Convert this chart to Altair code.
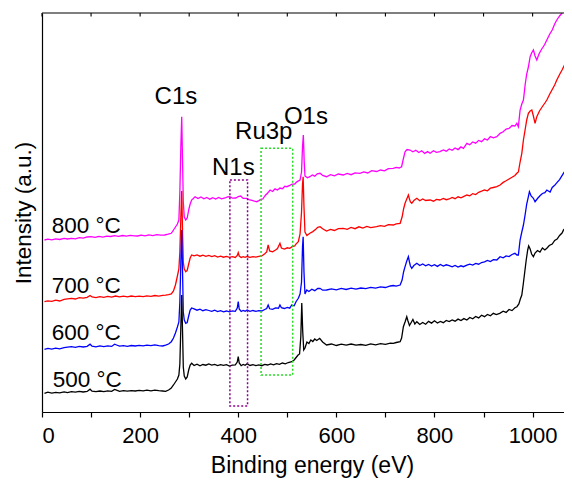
import altair as alt
import pandas as pd

FONT = "Liberation Sans"

# ---- spectra: (binding energy eV, intensity a.u.) ----
s500 = [(5, 18.7), (12, 19.8), (20, 18.9), (28, 19.6), (36, 19.2), (45, 20.1), (52, 19.4), (60, 20.3),
        (68, 19.8), (76, 20.6), (84, 20.0), (92, 20.5), (98, 22.8), (102, 20.9), (110, 20.4), (118, 21.0),
        (126, 20.3), (134, 21.1), (142, 20.6), (148, 22.6), (152, 21.8), (158, 20.7), (166, 21.3), (174, 20.8),
        (182, 21.4), (190, 21.0), (198, 21.6), (206, 21.1), (214, 21.8), (222, 21.2), (230, 21.9), (238, 21.3),
        (246, 21.0), (252, 20.6), (258, 22.0), (263, 23.7), (268, 27), (272, 30), (276, 33), (279, 37),
        (281, 48), (283, 85), (284.8, 117), (286.5, 80), (288, 45), (290, 36), (293, 33), (296, 35), (299, 42),
        (302, 47), (305, 48.7), (310, 46.5), (316, 47.8), (322, 46.2), (328, 47.5), (334, 46.8), (340, 48.0),
        (346, 46.9), (352, 47.6), (358, 46.4), (364, 47.3), (370, 46.6), (376, 47.4), (382, 46.0), (388, 46.9),
        (394, 47.2), (398, 50), (400, 55.3), (402, 49), (406, 46.3), (410, 47.5), (414, 46.7), (418, 48.2),
        (424, 46.5), (430, 47.3), (436, 46.4), (442, 47.1), (448, 46.3), (454, 47.6), (460, 47.0), (466, 48.1),
        (472, 47.2), (478, 48.3), (484, 47.6), (490, 49.0), (496, 48.2), (502, 49.5), (509, 50.3), (514, 52),
        (518, 54.5), (522, 57), (525, 58), (527.5, 75), (529.5, 109), (531.5, 80), (533.5, 62), (536, 64),
        (540, 70), (544, 68.5), (548, 72), (552, 70.5), (556, 73), (560, 71.5), (566, 73.7), (572, 70),
        (580, 67), (590, 68), (600, 66.5), (610, 67.8), (620, 66.9), (630, 68.0), (640, 66.8), (650, 67.5),
        (660, 66.6), (670, 68.1), (680, 67.2), (690, 68.4), (700, 67.6), (710, 68.9), (716, 68.7), (722, 69.5),
        (730, 70.3), (733, 74), (736.6, 85.3), (740, 90), (743.5, 95.3), (746, 91), (749, 86.5), (752, 89),
        (756, 92.5), (760, 88), (764, 90.3), (770, 87.5), (776, 89.5), (782, 87.8), (788, 90.6), (794, 88.9),
        (800, 91.2), (806, 89.0), (812, 90.5), (818, 89.3), (824, 91.6), (830, 90.4), (836, 92.1), (842, 90.8),
        (848, 92.9), (854, 91.5), (860, 93.4), (866, 92.0), (872, 94.6), (878, 93.2), (884, 95.5), (890, 94.1),
        (896, 96.8), (902, 95.3), (908, 97.6), (914, 96.2), (920, 98.7), (926, 97.4), (933, 98.7), (940, 100.8),
        (946, 99.6), (952, 102.5), (958, 101.4), (964, 104.2), (968, 105.3), (972, 108), (975, 113), (978, 117),
        (981, 128), (984, 140), (987, 152), (990, 162), (992, 166), (995, 163), (998, 158), (1001.6, 155.3),
        (1005, 159), (1010, 161.5), (1015, 160), (1020, 164), (1025, 162), (1029, 163.7), (1034, 166.5),
        (1040, 168), (1045, 171.5), (1050, 173), (1055, 176.5), (1060, 179), (1063, 182), (1068, 184.5),
        (1073, 189), (1080, 195.3)]

s600 = [(5, 62.7), (12, 63.6), (20, 62.9), (28, 63.8), (36, 63.2), (45, 64.3), (52, 64.8), (60, 65.3),
        (68, 64.6), (76, 65.6), (84, 65.0), (92, 65.7), (98, 67.8), (102, 65.9), (110, 65.2), (118, 66.1),
        (126, 65.4), (134, 66.2), (142, 65.6), (148, 67.8), (152, 67.0), (158, 65.8), (166, 66.4), (174, 65.7),
        (182, 66.5), (190, 66.0), (198, 66.7), (206, 66.1), (214, 66.9), (222, 66.3), (230, 67.1), (238, 66.4),
        (246, 66.0), (252, 66.8), (258, 68.0), (263.6, 70.3), (268, 74), (272, 79), (276, 85), (279, 90),
        (281, 110), (283, 150), (284.8, 182), (286.5, 140), (288, 100), (290, 92), (293, 88.7), (296, 89.5),
        (299, 96), (302, 102), (305, 104), (310, 103.2), (316, 101.8), (322, 102.9), (328, 101.3), (334, 102.4),
        (340, 101.5), (346, 100.6), (352, 101.8), (358, 100.4), (364, 101.3), (370, 100.2), (376, 101.0),
        (382, 100.1), (388, 101.1), (394, 100.6), (398, 104), (400, 110.3), (402, 103), (406, 100.5),
        (410, 101.6), (414, 100.8), (418, 101.9), (424, 100.6), (430, 101.5), (436, 100.7), (442, 101.4),
        (448, 101.0), (454, 102.5), (458, 103.5), (461, 107), (464, 103.2), (470, 102.6), (476, 104.1),
        (482, 103.8), (485, 107), (488, 104.3), (494, 103.5), (500, 104.6), (505, 103.8), (509, 107),
        (514, 106.2), (518, 110.5), (522.5, 113.7), (526, 118), (529, 130), (531, 165), (532.3, 175.3),
        (534, 140), (536, 118), (539.7, 122), (544, 120.5), (550, 122.8), (556, 121.3), (562, 123.5),
        (566.8, 123.7), (572, 121.8), (580, 122), (590, 123.2), (600, 122.1), (610, 123.6), (620, 122.5),
        (630, 123.9), (640, 122.8), (650, 124.0), (660, 123.3), (670, 124.6), (680, 123.8), (690, 125.1),
        (700, 124.5), (710, 126.0), (716, 126.5), (722, 125.8), (730, 127), (734, 132), (737, 140), (740, 145.3),
        (743.5, 151), (746.8, 155.3), (749, 150), (751, 146), (753.7, 143.7), (758, 146.5), (764, 148.7),
        (770, 146.4), (776, 148.0), (782, 146.2), (788, 147.6), (794, 146.0), (800, 147.3), (806, 145.6),
        (812, 147.5), (818, 145.9), (824, 147.2), (830, 146.3), (836, 145.1), (842, 146.6), (848, 144.9),
        (854, 146.2), (859, 145.3), (866, 146.8), (872, 147.9), (878, 147.0), (884, 148.6), (890, 147.8),
        (896, 149.5), (902, 150.1), (908, 151.6), (914, 150.4), (920, 152.3), (927, 152), (933.7, 155.3),
        (940, 154.2), (946, 156.1), (952, 155.4), (958, 157.5), (964, 158.7), (968, 157.0), (971, 157),
        (974.5, 172), (978, 180), (981.3, 187), (985, 198), (988, 208), (991.4, 215.3), (993.5, 220.3),
        (997, 216), (1001.6, 213.7), (1005, 210.3), (1010, 213.5), (1015, 216.2), (1020, 218.5), (1025, 219.3),
        (1029, 222), (1035.7, 220), (1040, 224.5), (1045, 226.7), (1050, 229.6), (1055, 232.4),
        (1062.8, 238.7), (1068, 242.5), (1074, 247.3), (1080, 252)]

s700 = [(5, 110.3), (12, 111.2), (20, 110.6), (28, 111.8), (36, 111.0), (45, 112.6), (52, 113.1), (60, 113.7),
        (68, 113.0), (76, 114.3), (84, 113.8), (92, 114.6), (98, 116.5), (102, 115.0), (110, 114.4),
        (118, 115.3), (126, 114.7), (134, 115.6), (142, 114.9), (150, 116.0), (158, 115.1), (166, 115.9),
        (174, 115.2), (182, 116.0), (190, 115.4), (198, 115.9), (206, 115.3), (214, 116.2), (222, 115.7),
        (230, 116.5), (238, 115.9), (246, 116.6), (252, 116.9), (258, 117.4), (263.6, 118), (268, 121),
        (272, 127), (276, 136), (279, 143), (281, 160), (283, 195), (284.8, 221), (286.5, 180), (288, 150),
        (290, 143), (293, 140.3), (296, 141.5), (299, 148), (302, 154), (305, 157), (310, 156.1), (316, 157.0),
        (322, 155.8), (328, 156.9), (334, 155.6), (340, 156.5), (346, 155.4), (352, 156.3), (358, 155.0),
        (364, 155.9), (370, 154.8), (376, 155.6), (382, 154.7), (388, 155.3), (394, 154.5), (398, 156.5),
        (400, 159.3), (402, 156), (406, 154.4), (410, 155.4), (414, 154.6), (418, 155.5), (424, 154.7),
        (430, 155.4), (436, 154.8), (442, 155.6), (448, 156.0), (454, 158.2), (458, 160), (461, 167), (464, 161),
        (470, 160.2), (476, 162.0), (480, 163.5), (485, 168.7), (488, 164), (494, 163.0), (500, 164.2),
        (505, 163.7), (510, 165.3), (515, 166), (518, 168.2), (522.5, 170.3), (526, 178), (529, 200), (531, 228),
        (532.3, 235.3), (534, 205), (536, 180), (540, 176.5), (546, 178.7), (552, 180.4), (558, 182.7),
        (562, 184.6), (566.8, 185.3), (572, 183.2), (580, 181), (588, 182.6), (596, 181.5), (604, 183.4),
        (614, 183.7), (622, 182.6), (630, 184.5), (638, 183.3), (646, 185.2), (654, 184.0), (662, 185.6),
        (670, 184.4), (682, 185.3), (690, 186.4), (698, 185.6), (706, 187.3), (716, 187), (722, 188.2),
        (730, 188.7), (734, 195), (737, 203), (740, 208.7), (743.5, 213), (746.8, 217), (749, 213), (751, 210),
        (753.7, 208.7), (758, 211.5), (764, 213.7), (770, 211.2), (776, 213.0), (782, 211.5), (791, 212),
        (798, 210.8), (804, 212.6), (811, 212), (818, 213.5), (824, 212.3), (830, 213), (836, 214.6),
        (842, 213.3), (848, 215.2), (854, 214.1), (859, 215.3), (866, 217), (872, 216.2), (878, 218.4),
        (884, 217.5), (890, 219.7), (896, 220.8), (902, 222), (908, 221.2), (914, 223.8), (920, 224.5),
        (927, 225.3), (933.7, 227), (940, 229.6), (946, 231.2), (952, 233.0), (958, 234.7), (964, 236.5),
        (967.8, 238.7), (971, 240), (974.5, 250), (978, 258.7), (981.3, 272), (985, 283), (988, 292),
        (991.4, 298.7), (995, 301), (998.4, 302), (1001.6, 296), (1005, 288.7), (1008.6, 295.3), (1014, 301),
        (1020, 305.5), (1025, 309), (1029, 312), (1035, 318), (1040, 322.5), (1045, 327), (1049.3, 332),
        (1055, 337.5), (1060, 342), (1065, 347), (1069.7, 352), (1075, 360), (1080, 368.7)]

s800 = [(5, 172), (12, 172.8), (20, 172.1), (28, 173.2), (36, 172.5), (45, 173.6), (52, 173.0), (60, 173.7),
        (68, 173.1), (76, 174.4), (84, 173.8), (92, 175.0), (100, 175.3), (108, 174.6), (116, 175.7),
        (124, 174.9), (132, 175.9), (140, 175.5), (148, 176.4), (156, 175.6), (164, 176.5), (172, 175.8),
        (180, 176.7), (188, 176.1), (195, 176), (202, 176.9), (210, 176.2), (218, 177.1), (226, 176.4),
        (234, 177.3), (242, 176.8), (250, 177), (257, 177.8), (263.6, 178.7), (268, 182), (272, 185),
        (276, 188), (279, 192), (281, 220), (283, 265), (284.8, 295.3), (286.5, 250), (288, 210), (290, 195),
        (293, 192), (296, 194), (299, 202), (302, 208), (305, 212), (312, 215.3), (318, 213.4), (324, 215.0),
        (330, 213.2), (336, 214.6), (342, 212.8), (348, 214.3), (354, 213.0), (360, 214.5), (366, 213.1),
        (373, 214), (378, 215.2), (383, 215.3), (388, 213.8), (395, 214), (400, 215.5), (405, 216),
        (410, 213.6), (417, 213.7), (422, 212.4), (428, 211.6), (433, 210.8), (437.7, 210.3), (442, 211.4),
        (446, 212.6), (450, 213), (455, 216.5), (460, 219), (465, 222), (470, 220.5), (475, 223.2),
        (480, 222.0), (485, 224), (490, 223.3), (495, 225.8), (499, 225.3), (505, 226.6), (510, 227.8),
        (515, 228), (520, 230.4), (526, 232), (529, 240), (531, 265), (532.7, 277), (534.5, 250), (536, 236),
        (541, 234.2), (546, 235.3), (551, 237.0), (556, 235.8), (561, 238.1), (566.8, 238.7), (572, 236.6),
        (580, 235.3), (588, 237.4), (596, 236.1), (604, 238.0), (614, 237), (622, 238.6), (630, 237.3),
        (638, 239.2), (648, 238.7), (656, 240.1), (664, 239.0), (672, 241.3), (682, 240.5), (690, 242.0),
        (698, 241.2), (706, 243.4), (716, 243.7), (722, 244.6), (728, 244.0), (733, 245.3), (736, 252),
        (740, 260.3), (744, 262.5), (750, 262), (756, 260.2), (762, 261.8), (768, 259.5), (774, 261.3),
        (780, 258.6), (786, 260.4), (791, 258.7), (798, 261.2), (804, 259.6), (811, 260.3), (818, 262.0),
        (824, 260.8), (830, 263.1), (836, 261.7), (842, 264.0), (848, 262.4), (854, 265.1), (859, 263.7),
        (866, 268.7), (872, 267.2), (878, 270.1), (884, 268.8), (890, 271.6), (896, 270.3), (902, 273.2),
        (908, 272.0), (914, 275.4), (920, 274.1), (927, 275.3), (933.7, 278.7), (940, 280.2), (946, 282.9),
        (952, 283.6), (958, 286.5), (964, 286.0), (967.8, 288.7), (971, 285.3), (974.5, 302), (978, 308),
        (981.3, 312), (985, 328), (988, 338), (991.4, 345), (995, 355.3), (998, 359), (1001.6, 362),
        (1005, 356), (1008.6, 352), (1013, 358), (1018, 362.5), (1024, 367), (1029, 372), (1035, 378),
        (1040, 382), (1045, 388), (1049.3, 392), (1055, 396), (1059.5, 398.7), (1065, 405), (1072, 412),
        (1080, 420)]

# draw order: 800 first, 500 last (on top)
series_names = ["800 °C", "700 °C", "600 °C", "500 °C"]
series_colors = ["#ff00ff", "#ff0000", "#0000ff", "#000000"]
series_points = [s800, s700, s600, s500]

# curve labels (left x in eV, baseline intensity)
curve_label_x = [20, 20, 20, 22]
curve_label_y = [179, 119.3, 72, 25]

# peak labels
peak_names = ["C1s", "N1s", "Ru3p", "O1s"]
peak_x = [273, 390, 452, 538]
peak_y = [308, 237, 272.7, 288.5]

# dotted boxes
box_x1 = [383, 446.5]
box_x2 = [419, 511]
box_y1 = [6, 37]
box_y2 = [232, 263.7]
box_colors = ["#8b008b", "#22dd22"]

tick_values = list(range(0, 1001, 100))
X_MAX = 1064

x_scale = alt.Scale(domain=[0, X_MAX], nice=False, zero=False)
y_scale = alt.Scale(domain=[0, 399], nice=False, zero=False)

x_axis = alt.Axis(
    title="Binding energy (eV)", values=tick_values, format="d",
    labelExpr="datum.value % 200 === 0 ? datum.label : ''",
    grid=False, tickSize=5, tickColor="black", tickWidth=1.2,
    domainColor="black", domainWidth=1.2, labelFontSize=22, labelColor="black",
    labelPadding=8, titleFontSize=23, titleColor="black", titleFontWeight="normal",
    titleX=270, titleY=60, titleAlign="center", titleBaseline="alphabetic", titleAnchor="start",
    labelFont=FONT, titleFont=FONT,
)
y_axis = alt.Axis(
    title="Intensity (a.u.)", labels=False, ticks=False, grid=False,
    domainColor="black", domainWidth=1.2, titleFontSize=22.5, titleColor="black",
    titleFontWeight="normal", titlePadding=7, titleFont=FONT,
)

X = lambda: alt.X("energy:Q", scale=x_scale, axis=x_axis)
Y = lambda: alt.Y("intensity:Q", scale=y_scale, axis=y_axis)

layers = []
for name, color, pts in zip(series_names, series_colors, series_points):
    df = pd.DataFrame(pts, columns=["energy", "intensity"])
    layers.append(
        alt.Chart(df).mark_line(color=color, strokeWidth=1.3, clip=True).encode(x=X(), y=Y())
    )

box_df = pd.DataFrame({"energy": box_x1, "energy2": box_x2, "intensity": box_y1,
                       "intensity2": box_y2, "c": box_colors})
boxes = alt.Chart(box_df).mark_rect(filled=False, strokeDash=[2, 2], strokeWidth=1.5).encode(
    x=X(), x2="energy2:Q", y=Y(), y2="intensity2:Q",
    stroke=alt.Stroke("c:N", scale=None),
)

curve_lab_df = pd.DataFrame({"t": series_names, "energy": curve_label_x, "intensity": curve_label_y})
curve_labels = alt.Chart(curve_lab_df).mark_text(
    align="left", baseline="alphabetic", fontSize=22.5, font=FONT, color="black"
).encode(x=X(), y=Y(), text="t:N")

peak_df = pd.DataFrame({"t": peak_names, "energy": peak_x, "intensity": peak_y})
peak_labels = alt.Chart(peak_df).mark_text(
    align="center", baseline="alphabetic", fontSize=24, font=FONT, color="black"
).encode(x=X(), y=Y(), text="t:N")

# top frame line with inward ticks
top_df = pd.DataFrame({"energy": [0], "energy2": [X_MAX], "intensity": [399]})
top_line = alt.Chart(top_df).mark_rule(color="black", strokeWidth=1.2).encode(
    x=X(), x2="energy2:Q", y=Y(),
)
tick_df = pd.DataFrame({"energy": tick_values, "intensity": [399] * len(tick_values),
                        "intensity2": [395.5] * len(tick_values)})
top_ticks = alt.Chart(tick_df).mark_rule(color="black", strokeWidth=1.1).encode(
    x=X(), y=Y(), y2="intensity2:Q",
)

chart = alt.layer(*layers, boxes, curve_labels, peak_labels, top_line, top_ticks).properties(
    width=522, height=399,
    autosize=alt.AutoSizeParams(type="none"),
    padding={"left": 34, "top": 5, "right": 0, "bottom": 70},
).configure_view(stroke=None)

chart.save("out.html", embed_options={"renderer": "svg", "actions": False})
